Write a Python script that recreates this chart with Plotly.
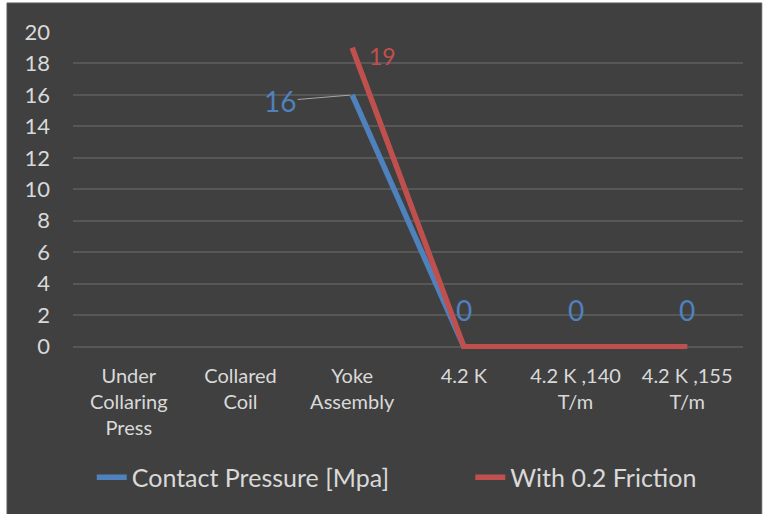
import plotly.graph_objects as go

# Contact pressure through the assembly stages
stages = ["Under<br>Collaring<br>Press", "Collared<br>Coil", "Yoke<br>Assembly",
          "4.2 K", "4.2 K ,140<br>T/m", "4.2 K ,155<br>T/m"]
contact_pressure = [None, None, 16, 0, 0, 0]
with_friction = [None, None, 19, 0, 0, 0]
y_ticks = [0, 2, 4, 6, 8, 10, 12, 14, 16, 18, 20]

BLUE = "#4f81bd"
RED = "#c0504d"
BG = "#404040"
GRID = "#575757"
TXT = "#d9d9d9"
FONT = "Lato"

x_idx = list(range(len(stages)))

fig = go.Figure()
fig.add_trace(go.Scatter(
    x=x_idx, y=contact_pressure, mode="lines", name="Contact Pressure [Mpa]",
    line=dict(color=BLUE, width=5.5), connectgaps=False, legend="legend"))
fig.add_trace(go.Scatter(
    x=x_idx, y=with_friction, mode="lines", name="With 0.2 Friction",
    line=dict(color=RED, width=5.5), connectgaps=False, legend="legend2"))

annotations = []
# value labels for the contact pressure series
for i, v in enumerate(contact_pressure):
    if v is None:
        continue
    if v > 0:
        annotations.append(dict(
            x=i, y=v, xref="x", yref="y", text=str(v), showarrow=True,
            ax=-72, ay=6, arrowhead=0, arrowwidth=1, arrowcolor="#a6a6a6",
            standoff=2, font=dict(family=FONT, size=28, color=BLUE)))
    else:
        annotations.append(dict(
            x=i, y=v, xref="x", yref="y", text=str(v), showarrow=False,
            yshift=37, font=dict(family=FONT, size=28, color=BLUE)))
# peak label for the friction series
peak = max(v for v in with_friction if v is not None)
annotations.append(dict(
    x=with_friction.index(peak), y=peak, xref="x", yref="y", text=str(peak),
    showarrow=False, xshift=30, yshift=-8,
    font=dict(family=FONT, size=23, color=RED)))

legend_style = dict(orientation="h", xanchor="left", y=-0.405,
                    yanchor="middle", font=dict(family=FONT, size=25, color=TXT),
                    bgcolor="rgba(0,0,0,0)")

fig.update_layout(
    width=763, height=514,
    margin=dict(l=73, r=20, t=32, b=165, autoexpand=False),
    paper_bgcolor="white",
    plot_bgcolor=BG,
    font=dict(family=FONT, color=TXT),
    showlegend=True,
    legend=dict(x=0.028, **legend_style),
    legend2=dict(x=0.593, **legend_style),
    annotations=annotations,
    shapes=[dict(type="rect", xref="paper", yref="paper",
                 x0=-0.0985, x1=1.028, y0=-0.53, y1=1.0915,
                 fillcolor=BG, line=dict(color="#595959", width=1),
                 layer="below")],
)
fig.update_xaxes(
    range=[-0.5, 5.5], tickmode="array", tickvals=x_idx, ticktext=stages,
    showgrid=False, zeroline=False, showline=False, ticks="",
    tickfont=dict(family=FONT, size=20, color=TXT), ticklabelstandoff=13,
    automargin=False)
fig.update_yaxes(
    range=[-0.15, 20], tickmode="array", tickvals=y_ticks,
    showgrid=True, gridcolor=GRID, gridwidth=1.5, zeroline=False,
    showline=False, ticks="", tickfont=dict(family=FONT, size=22, color=TXT),
    ticklabelstandoff=22, automargin=False)

fig.write_html("out.html")
